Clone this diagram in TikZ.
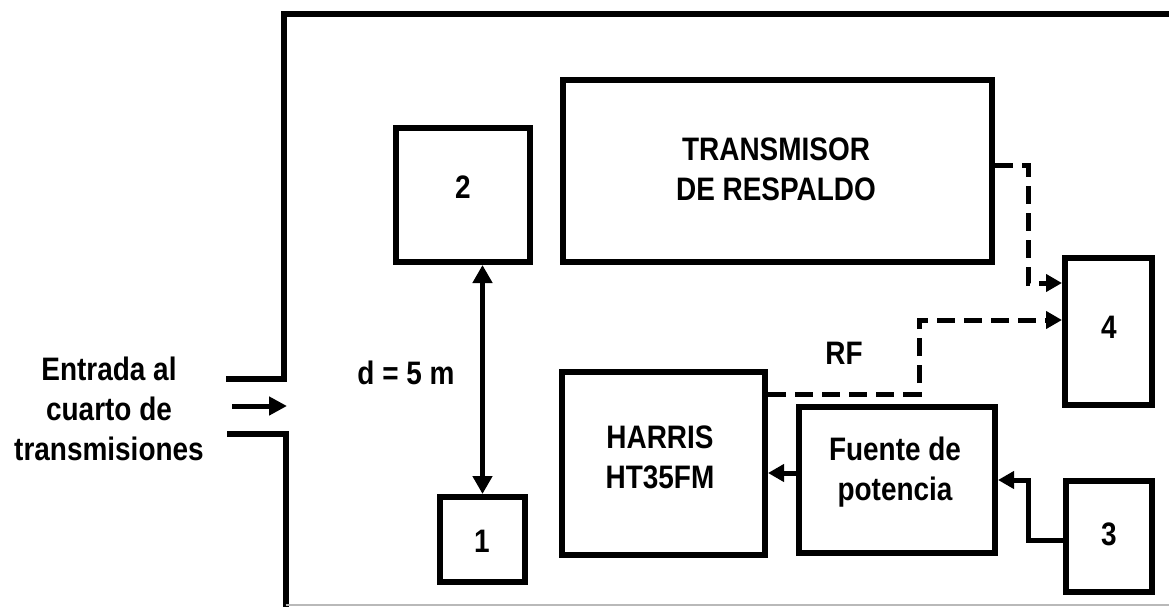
\documentclass[tikz,border=0pt]{standalone}
\usepackage{fontspec}
\newfontfamily\labfont[FakeStretch=0.86]{Liberation Sans}
\usetikzlibrary{arrows.meta}
\begin{document}
\begin{tikzpicture}[x=1pt,y=-1pt,
  box/.style={draw,line width=6pt,line join=miter,inner sep=0pt},
  txt/.style={font=\labfont\bfseries\fontsize{32.5}{40}\selectfont,align=center,inner sep=0pt},
  wall/.style={line width=6pt,line join=miter},
  conn/.style={line width=5pt,line join=miter},
  arr/.style={conn,-{Triangle[length=16pt,width=17pt]}},
  dsh/.style={dash pattern=on 18pt off 9pt}]
\useasboundingbox (0,0) rectangle (1169,607);
% room walls
\draw[wall] (1169,14) -- (284,14) -- (284,378.5) -- (226,378.5);
\draw[wall] (227,433.5) -| (285.5,607);
\draw[gray!55,line width=1.5pt] (285.5,605) -- (1169,605);
% boxes
\node[box,minimum width=134pt,minimum height=134pt] (b2) at (463,195) {};
\node[box,minimum width=85pt,minimum height=85pt] (b1) at (482.5,539.5) {};
\node[box,minimum width=429pt,minimum height=182pt] (tr) at (777.5,171) {};
\node[box,minimum width=203pt,minimum height=183pt] (ha) at (663.5,463.5) {};
\node[box,minimum width=196pt,minimum height=146pt] (fu) at (897,480) {};
\node[box,minimum width=87pt,minimum height=147pt] (b4) at (1108.5,331) {};
\node[box,minimum width=86pt,minimum height=111pt] (b3) at (1109,536.5) {};
% texts
\node[txt] (entr) at (109,409) {Entrada al\\cuarto de\\transmisiones};
\node[txt] (dist) at (406,373) {d = 5 m};
\node[txt] (rf) at (844,353) {RF};
\node[txt] (t2) at (463,187) {2};
\node[txt] (t1) at (482,541) {1};
\node[txt] (t4) at (1109,327) {4};
\node[txt] (t3) at (1109,534) {3};
\node[txt] (trt) at (776,169) {TRANSMISOR\\DE RESPALDO};
\node[txt] (hat) at (660,457) {HARRIS\\HT35FM};
\node[txt] (fut) at (895,472) {Fuente de\\potencia};
% connectors
\coordinate (ent) at (232,406);
\coordinate (door) at (287,406);
\draw[arr,-{Triangle[length=18pt,width=18pt]}] (ent) -- (door);
\draw[conn,{Triangle[length=18pt,width=19pt]}-{Triangle[length=18pt,width=19pt]}] (b2.south -| b1.north) -- (b1.north);
\coordinate (k1) at (1028,283);
\draw[arr,dsh] (tr.east |- 0,165) -| (k1) -- (k1 -| b4.west);
\coordinate (k2) at (919,320);
\draw[arr,dsh] (ha.east |- 0,394) -| (k2) -- (k2 -| b4.west);
\draw[arr] (fu.west |- 0,473) -- (ha.east |- 0,473);
\coordinate (k3) at (1028,480);
\draw[arr] (b3.west |- 0,540) -| (k3) -- (k3 -| fu.east);
\end{tikzpicture}
\end{document}
